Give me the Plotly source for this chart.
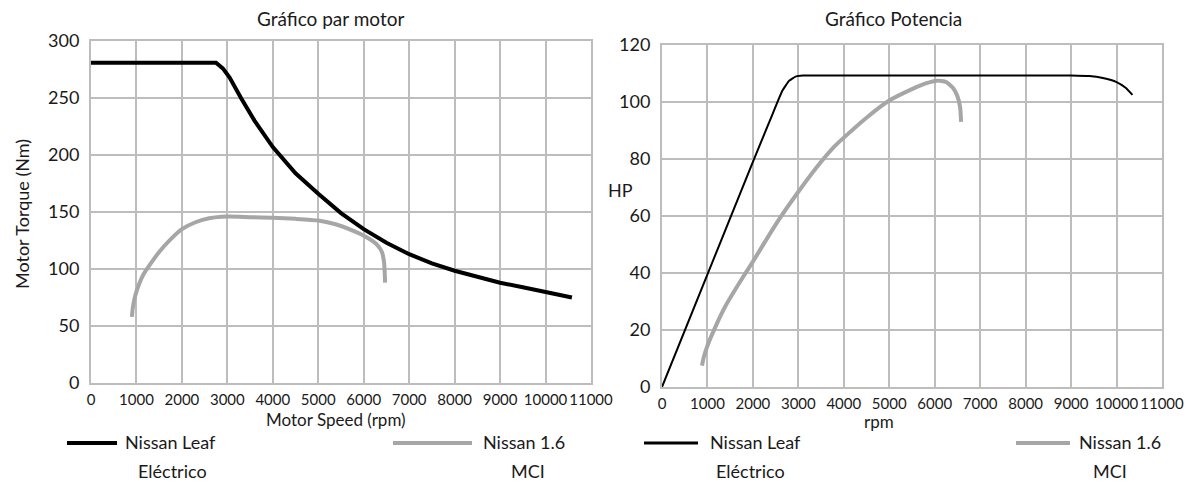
import plotly.graph_objects as go

# ---------------- data ----------------
leaf_torque_rpm = [0, 1000, 2000, 2750, 2900, 3050, 3300, 3600, 4000, 4500, 5000, 5500, 6000,
                   6500, 7000, 7500, 8000, 8500, 9000, 9500, 10000, 10580]
leaf_torque_nm = [281, 281, 281, 281, 276, 268, 250, 230, 207, 184, 166, 149, 135,
                  123, 113, 105, 98.5, 93, 88, 84, 80, 75]

ice_torque_rpm = [900, 920, 970, 1050, 1150, 1300, 1500, 1750, 2000, 2300, 2600, 3000,
                  3500, 4000, 4500, 5000, 5400, 5800, 6100, 6300, 6400, 6450, 6470]
ice_torque_nm = [58, 66, 76, 86, 95, 104, 115, 126, 135, 141, 144.5, 146,
                 145.5, 145, 144, 142.5, 139, 133, 127, 121, 115, 105, 88]

leaf_power_rpm = [0, 1000, 2000, 2400, 2650, 2800, 2950, 3100, 4000, 5000, 6000, 7000, 8000,
                  9000, 9400, 9700, 10000, 10200, 10350]
leaf_power_hp = [0, 39.5, 79, 94.5, 104, 107.5, 109, 109.3, 109.3, 109.3, 109.3, 109.3, 109.3,
                 109.3, 109.1, 108.4, 107, 105, 102.5]

ice_power_rpm = [880, 920, 1000, 1200, 1400, 1700, 2000, 2500, 3000, 3500, 3800, 4000, 4500,
                 5000, 5500, 5800, 6050, 6250, 6400, 6500, 6560, 6580]
ice_power_hp = [7.5, 10.5, 14.5, 22, 28.5, 36.5, 44, 57, 68.5, 79, 84.5, 87.5, 94.5,
                100.5, 104.5, 106.5, 107.5, 107, 105, 102, 98, 93]

x_ticks = [0, 1000, 2000, 3000, 4000, 5000, 6000, 7000, 8000, 9000, 10000, 11000]
torque_ticks = [0, 50, 100, 150, 200, 250, 300]
hp_ticks = [0, 20, 40, 60, 80, 100, 120]

title_left = "Gráfico par motor"
title_right = "Gráfico Potencia"
legend_leaf = ["Nissan Leaf", "Eléctrico"]
legend_ice = ["Nissan 1.6", "MCI"]

# ---------------- layout helpers ----------------
PAGE_W, PAGE_H = 1196, 486
OFF = 8                      # default body margin of the html page
W, H = PAGE_W - OFF, PAGE_H - OFF
FONT = "Lato, 'Open Sans', sans-serif"
BLACK = "#000000"
GRAY = "#a6a6a6"
GRID = "#bdbdbd"
TXT = "#1a1a1a"


def px(x):
    return (x - OFF) / W


def py(y):
    return 1 - (y - OFF) / H


fig = go.Figure()

fig.add_trace(go.Scatter(x=leaf_torque_rpm, y=leaf_torque_nm, mode="lines",
                         line=dict(color=BLACK, width=4, shape="linear"),
                         xaxis="x", yaxis="y", showlegend=False))
fig.add_trace(go.Scatter(x=ice_torque_rpm, y=ice_torque_nm, mode="lines",
                         line=dict(color=GRAY, width=4, shape="spline", smoothing=0.5),
                         xaxis="x", yaxis="y", showlegend=False))
fig.add_trace(go.Scatter(x=leaf_power_rpm, y=leaf_power_hp, mode="lines",
                         line=dict(color=BLACK, width=2, shape="spline", smoothing=0.4),
                         xaxis="x2", yaxis="y2", showlegend=False))
fig.add_trace(go.Scatter(x=ice_power_rpm, y=ice_power_hp, mode="lines",
                         line=dict(color=GRAY, width=4, shape="spline", smoothing=0.5),
                         xaxis="x2", yaxis="y2", showlegend=False))

common_x = dict(range=[0, 11000], tickmode="array", tickvals=x_ticks,
                ticktext=[str(v) for v in x_ticks], tickangle=0, automargin=False,
                showgrid=True, gridcolor=GRID, gridwidth=2,
                showline=True, linecolor=GRID, linewidth=2, mirror=True,
                zeroline=False, ticks="outside", ticklen=2, tickcolor="rgba(0,0,0,0)",
                tickfont=dict(family=FONT, size=15, color=TXT), fixedrange=True)
common_y = dict(tickmode="array", automargin=False,
                showgrid=True, gridcolor=GRID, gridwidth=2,
                showline=True, linecolor=GRID, linewidth=2, mirror=True,
                zeroline=False, ticks="outside", ticklen=6, tickcolor="rgba(0,0,0,0)",
                tickfont=dict(family=FONT, size=18, color=TXT), fixedrange=True)

fig.update_layout(
    width=W, height=H, autosize=False,
    margin=dict(l=0, r=0, t=0, b=0, autoexpand=False),
    paper_bgcolor="white", plot_bgcolor="white",
    xaxis=dict(domain=[px(91), px(591)], anchor="y", **common_x),
    yaxis=dict(domain=[py(383), py(41)], anchor="x", range=[0, 300],
               tickvals=torque_ticks, **common_y),
    xaxis2=dict(domain=[px(662), px(1162)], anchor="y2", **common_x),
    yaxis2=dict(domain=[py(387), py(45)], anchor="x2", range=[0, 120],
                tickvals=hp_ticks, **common_y),
)

ann = []


def text(t, x, y, size=18, xanchor="center", angle=0, family=FONT):
    ann.append(dict(text=t, x=px(x), y=py(y), xref="paper", yref="paper",
                    xanchor=xanchor, yanchor="middle", showarrow=False, textangle=angle,
                    font=dict(family=family, size=size, color=TXT)))


text(title_left, 330, 19, size=19)
text(title_right, 893, 19, size=19)
text("Motor Torque (Nm)", 22, 214, size=18, angle=-90)
text("Motor Speed (rpm)", 336, 419, size=17)
text("HP", 620, 190, size=18)
text("rpm", 879, 421, size=17)

# legends
text(legend_leaf[0], 123, 442, xanchor="left")
text(legend_leaf[1], 172, 471)
text(legend_ice[0], 481, 442, xanchor="left")
text(legend_ice[1], 528, 471)
text(legend_leaf[0], 708, 442, xanchor="left")
text(legend_leaf[1], 750, 471)
text(legend_ice[0], 1077, 442, xanchor="left")
text(legend_ice[1], 1110, 471)

shapes = []


def seg(x0, x1, y, color, width):
    shapes.append(dict(type="line", xref="paper", yref="paper",
                       x0=px(x0), x1=px(x1), y0=py(y), y1=py(y),
                       line=dict(color=color, width=width)))


seg(67, 117, 443, BLACK, 4)
seg(393, 472, 443, GRAY, 4)
seg(644, 698, 443, BLACK, 3)
seg(1016, 1070, 443, GRAY, 4)

fig.update_layout(annotations=ann, shapes=shapes)

fig.write_html("out.html")
